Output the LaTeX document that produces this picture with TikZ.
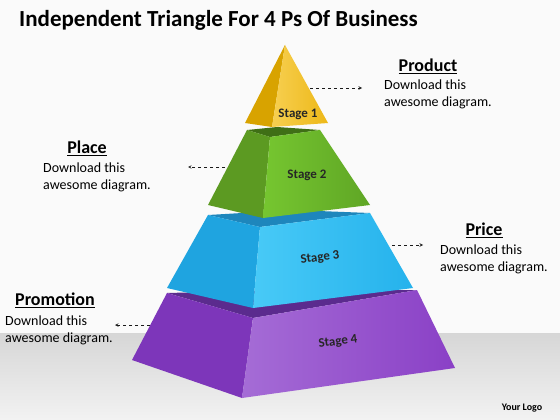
\documentclass[tikz,border=0pt]{standalone}
\usepackage{fontspec}
\setmainfont{Carlito}
\usetikzlibrary{positioning}

\definecolor{goldDark}{HTML}{D8A300}
\definecolor{goldLight}{HTML}{F7CF50}
\definecolor{goldMid}{HTML}{EDB818}
\definecolor{greenTop}{HTML}{3F6F16}
\definecolor{greenDark}{HTML}{5C9A22}
\definecolor{greenLight}{HTML}{76C630}
\definecolor{greenMid}{HTML}{5FA625}
\definecolor{blueTop}{HTML}{1E86BC}
\definecolor{blueDark}{HTML}{1FA4E0}
\definecolor{blueLight}{HTML}{48CAF7}
\definecolor{blueMid}{HTML}{25B2EC}
\definecolor{purpleTop}{HTML}{5B2B8E}
\definecolor{purpleDark}{HTML}{7D36BA}
\definecolor{purpleLight}{HTML}{A56CD6}
\definecolor{purpleMid}{HTML}{8A40C6}

\tikzset{
  heading/.style={font=\bfseries\fontsize{18}{20}\selectfont, inner sep=0pt},
  body/.style={font=\fontsize{14}{17}\selectfont, align=left, inner sep=0pt, anchor=north west},
  stagelabel/.style={font=\bfseries\fontsize{13}{15}\selectfont, text=black!85},
  pointer/.style={->, >=stealth, dashed, semithick, black!90}
}

\begin{document}
\begin{tikzpicture}[x=1pt,y=-1pt]
                \useasboundingbox (0,0) rectangle (560,420);
                \path [fill=black!2] (0,0) rectangle (560,420);
                \path [top color=black!16,bottom color=black!5] (0,333) rectangle (560,420);
                % stage 4
                \path [fill=purpleTop] (167,293)--(287,290)--(417,290)--(253,318)--cycle;
                \path [fill=purpleDark] (167,293)--(253,318)--(242,398)--(132,360)--cycle;
                \path [left color=purpleLight,right color=purpleMid] (253,318)--(417,290)--(455,368)--(242,398)--cycle;
                % stage 3
                \path [fill=blueTop] (208,215)--(293,210)--(370,213)--(260,227)--cycle;
                \path [fill=blueDark] (208,215)--(260,227)--(253,308)--(167,288)--cycle;
                \path [left color=blueLight,right color=blueMid] (260,227)--(370,213)--(413,288)--(253,308)--cycle;
                % stage 2
                \path [fill=greenTop] (247,130)--(277,127)--(320,130)--(270,137)--cycle;
                \path [fill=greenDark] (247,130)--(270,137)--(263,218)--(208,205)--cycle;
                \path [left color=greenLight,right color=greenMid] (270,137)--(320,130)--(370,205)--(263,218)--cycle;
                % stage 1
                \path [fill=goldDark] (285,45)--(245,123)--(272,127)--cycle;
                \path [left color=goldLight,right color=goldMid] (285,45)--(272,127)--(328,123)--cycle;

                \node [stagelabel] (s1) at (298,114) {Stage 1};
                \node [stagelabel] (s2) at (307,175) {Stage 2};
                \node [stagelabel,rotate=7] (s3) at (320,258) {Stage 3};
                \node [stagelabel,rotate=7] (s4) at (338,342) {Stage 4};

                \node [anchor=west,inner sep=0pt,font=\bfseries\fontsize{23}{26}\selectfont] (title) at (19,20) {Independent Triangle For 4 Ps Of Business};

                \node [heading] (product) at (428,66) {\underline{Product}};
                \node [body] (producttxt) at (384,80) {Download this\\awesome diagram.};
                \node [heading] (place) at (87,148) {\underline{Place}};
                \node [body] (placetxt) at (43,163) {Download this\\awesome diagram.};
                \node [heading] (price) at (484,230) {\underline{Price}};
                \node [body] (pricetxt) at (440,245) {Download this\\awesome diagram.};
                \node [heading] (promotion) at (55,300) {\underline{Promotion}};
                \node [body] (promotiontxt) at (5,316) {Download this\\awesome diagram.};

                \coordinate (a1) at (310,88);  \coordinate (b1) at (362,88);
                \coordinate (a2) at (225,167); \coordinate (b2) at (188,167);
                \coordinate (a3) at (392,245); \coordinate (b3) at (423,245);
                \coordinate (a4) at (150,325); \coordinate (b4) at (115,325);
                \draw [pointer] (a1)--(b1);
                \draw [pointer] (a2)--(b2);
                \draw [pointer] (a3)--(b3);
                \draw [pointer] (a4)--(b4);

                \node [font=\bfseries\fontsize{10}{12}\selectfont] (logo) at (522,408) {Your Logo};
            \end{tikzpicture}
\end{document}
